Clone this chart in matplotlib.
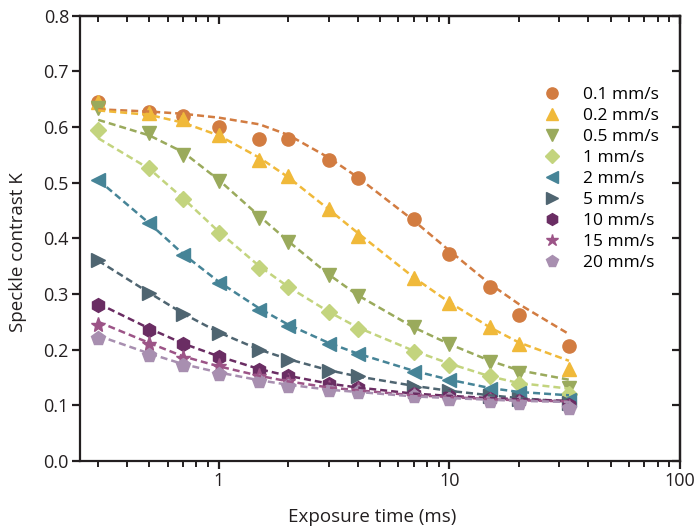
import matplotlib.pyplot as plt
from matplotlib.ticker import LogLocator, NullFormatter, FixedLocator

plt.rcParams['font.family'] = ['Open Sans', 'DejaVu Sans']

exposure = [0.3, 0.5, 0.7, 1, 1.5, 2, 3, 4, 7, 10, 15, 20, 33]
labels = ["0.1 mm/s", "0.2 mm/s", "0.5 mm/s", "1 mm/s", "2 mm/s",
          "5 mm/s", "10 mm/s", "15 mm/s", "20 mm/s"]

k_01 = [0.645, 0.628, 0.620, 0.601, 0.579, 0.578, 0.540, 0.508, 0.435, 0.372, 0.313, 0.262, 0.207]
k_02 = [0.645, 0.625, 0.615, 0.585, 0.540, 0.512, 0.453, 0.405, 0.328, 0.283, 0.240, 0.210, 0.165]
k_05 = [0.635, 0.590, 0.550, 0.503, 0.437, 0.393, 0.335, 0.296, 0.240, 0.210, 0.178, 0.158, 0.132]
k_1 = [0.595, 0.527, 0.470, 0.410, 0.347, 0.312, 0.268, 0.238, 0.196, 0.172, 0.152, 0.138, 0.120]
k_2 = [0.505, 0.427, 0.370, 0.320, 0.272, 0.242, 0.210, 0.192, 0.160, 0.145, 0.130, 0.122, 0.110]
k_5 = [0.362, 0.302, 0.265, 0.230, 0.200, 0.181, 0.162, 0.152, 0.133, 0.125, 0.117, 0.112, 0.105]
k_10 = [0.280, 0.236, 0.210, 0.187, 0.163, 0.152, 0.138, 0.132, 0.120, 0.117, 0.112, 0.108, 0.100]
k_15 = [0.245, 0.210, 0.185, 0.170, 0.152, 0.143, 0.132, 0.127, 0.118, 0.114, 0.110, 0.106, 0.097]
k_20 = [0.221, 0.190, 0.172, 0.157, 0.143, 0.135, 0.128, 0.124, 0.116, 0.112, 0.108, 0.104, 0.095]

fit_01 = [0.632, 0.628, 0.624, 0.617, 0.605, 0.586, 0.545, 0.510, 0.432, 0.378, 0.318, 0.282, 0.228]
fit_02 = [0.630, 0.622, 0.608, 0.585, 0.545, 0.510, 0.452, 0.410, 0.330, 0.285, 0.240, 0.213, 0.180]
fit_05 = [0.613, 0.585, 0.555, 0.505, 0.440, 0.395, 0.335, 0.298, 0.240, 0.210, 0.180, 0.163, 0.146]
fit_1 = [0.580, 0.525, 0.472, 0.412, 0.350, 0.313, 0.268, 0.240, 0.198, 0.175, 0.152, 0.140, 0.130]
fit_2 = [0.505, 0.427, 0.372, 0.322, 0.274, 0.245, 0.212, 0.193, 0.162, 0.146, 0.131, 0.124, 0.118]
fit_5 = [0.360, 0.302, 0.265, 0.231, 0.200, 0.183, 0.163, 0.152, 0.135, 0.126, 0.118, 0.113, 0.106]
fit_10 = [0.283, 0.238, 0.211, 0.188, 0.165, 0.153, 0.139, 0.132, 0.121, 0.117, 0.113, 0.111, 0.108]
fit_15 = [0.250, 0.212, 0.188, 0.170, 0.153, 0.143, 0.132, 0.127, 0.118, 0.115, 0.111, 0.109, 0.107]
fit_20 = [0.225, 0.193, 0.174, 0.159, 0.145, 0.137, 0.128, 0.124, 0.116, 0.113, 0.110, 0.108, 0.106]

data = [k_01, k_02, k_05, k_1, k_2, k_5, k_10, k_15, k_20]
fits = [fit_01, fit_02, fit_05, fit_1, fit_2, fit_5, fit_10, fit_15, fit_20]
colors = ["#d27c41", "#f0b93a", "#9aaa5c", "#c3d47e", "#468497",
          "#4f6571", "#6a2d63", "#9c5487", "#a88fb0"]
markers = ["o", "^", "v", "D", "<", ">", "h", "*", "p"]
sizes = [9.5, 10, 10, 8, 10, 10, 10, 11, 10]

fig = plt.figure(figsize=(6.98, 5.28), dpi=100)
ax = fig.add_axes([0.1146, 0.127, 0.8596, 0.843])

for y, f, c, m, s, lab in zip(data, fits, colors, markers, sizes, labels):
    ax.plot(exposure, y, linestyle="none", marker=m, markersize=s,
            color=c, mec=c, label=lab, zorder=2)
    ax.plot(exposure, f, linestyle=(0, (2.8, 1.6)), lw=1.8, color=c, zorder=3)

ax.set_xscale("log")
ax.set_xlim(0.25, 100)
ax.set_ylim(0, 0.8)
ax.set_xticks([1, 10, 100])
ax.set_xticklabels(["1", "10", "100"])
ax.xaxis.set_minor_locator(LogLocator(base=10, subs=range(2, 10)))
ax.xaxis.set_minor_formatter(NullFormatter())
ax.yaxis.set_major_locator(FixedLocator([0, 0.1, 0.2, 0.3, 0.4, 0.5, 0.6, 0.7, 0.8]))
ax.set_yticklabels(["0.0", "0.1", "0.2", "0.3", "0.4", "0.5", "0.6", "0.7", "0.8"])

for sp in ax.spines.values():
    sp.set_linewidth(1.6)
    sp.set_color("#231f20")

ax.tick_params(axis="both", which="major", direction="out", length=6, width=1.6,
               labelsize=13, colors="#231f20", pad=2)
ax.tick_params(axis="x", which="minor", direction="out", length=4, width=1.4, colors="#231f20")

# inward ticks on the top and right edges
top = ax.secondary_xaxis("top")
top.set_xticks([1, 10, 100])
top.xaxis.set_minor_locator(LogLocator(base=10, subs=range(2, 10)))
top.xaxis.set_minor_formatter(NullFormatter())
top.tick_params(which="major", direction="in", length=6, width=1.6, labeltop=False, colors="#231f20")
top.tick_params(which="minor", direction="in", length=4, width=1.4, colors="#231f20")
top.set_xticklabels([])
top.spines["top"].set_linewidth(1.6)
right = ax.secondary_yaxis("right")
right.set_yticks([0, 0.1, 0.2, 0.3, 0.4, 0.5, 0.6, 0.7, 0.8])
right.tick_params(direction="in", length=6, width=1.6, labelright=False, colors="#231f20")
right.set_yticklabels([])
right.spines["right"].set_linewidth(1.6)

ax.set_xlabel("Exposure time (ms)", fontsize=13.5, color="#231f20")
ax.set_ylabel("Speckle contrast K", fontsize=13.5, color="#231f20")
ax.xaxis.set_label_coords(0.487, -0.126, transform=ax.transAxes)
ax.yaxis.set_label_coords(-0.103, 0.47, transform=ax.transAxes)
ax.xaxis.label.set_va("center")
ax.yaxis.label.set_va("center")

ax.legend(loc="upper left", bbox_to_anchor=(0.769, 0.841), frameon=False,
          fontsize=12.5, borderpad=0, handlelength=1.2, handletextpad=1.2,
          labelspacing=0.28, borderaxespad=0, markerscale=0.85)

fig.savefig("out.png", dpi=100)
